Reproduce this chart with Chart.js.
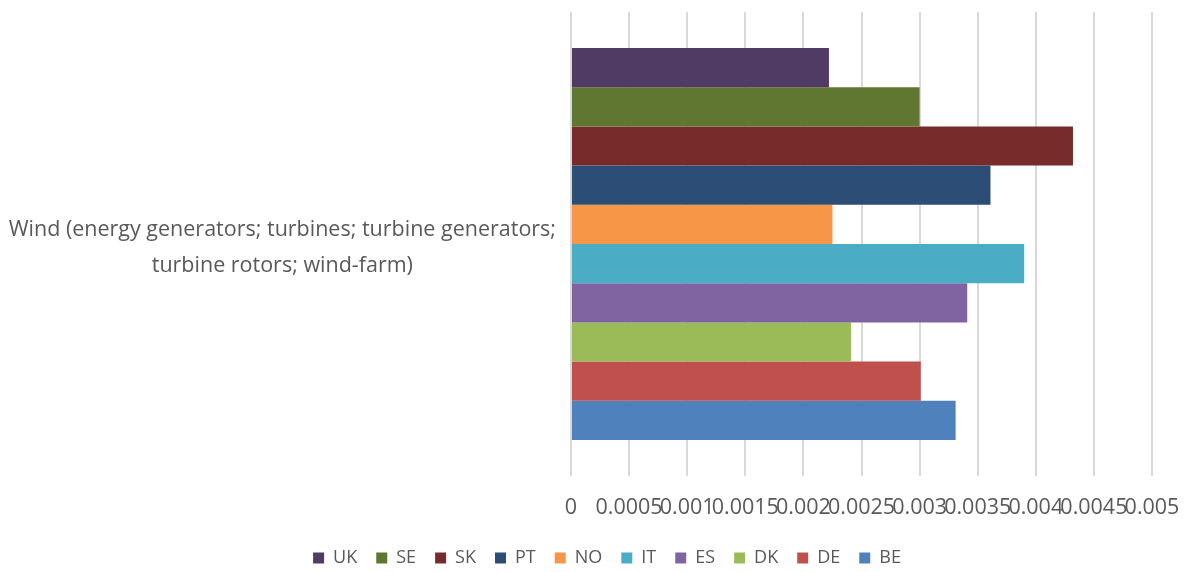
<!DOCTYPE html>
<html>
<head>
<meta charset="utf-8">
<script src="https://cdn.jsdelivr.net/npm/chart.js@4/dist/chart.umd.min.js"></script>
<style>
  html, body { margin: 0; padding: 0; background: #fff; }
  #wrap { width: 1189px; height: 572px; }
</style>
</head>
<body>
<div id="wrap"><canvas id="windChart"></canvas></div>
<script>
const categories = [["Wind (energy generators; turbines; turbine generators;", "turbine rotors; wind-farm)"]];

const countries = ["UK", "SE", "SK", "PT", "NO", "IT", "ES", "DK", "DE", "BE"];
const shares = [0.00222, 0.0030, 0.00432, 0.00361, 0.00225, 0.0039, 0.00341, 0.00241, 0.00301, 0.00331];
const colours = ["#4F3B63", "#5F7731", "#772C2B", "#2C4D75", "#F79646", "#4BACC6", "#8064A2", "#9BBB59", "#C0504D", "#4F81BD"];

const xTickLabels = ["0", "0.0005", "0.001", "0.0015", "0.002", "0.0025", "0.003", "0.0035", "0.004", "0.0045", "0.005"];

const textColour = "#595959";
const fontFamily = "'Open Sans', sans-serif";

// nudge the legend row to the right after layout
const legendShift = {
    id: "legendShift",
    afterLayout(chart) {
        chart.legend.left += 31;
        chart.legend.right += 31;
    }
};

const ctx = document.getElementById("windChart").getContext("2d");

new Chart(ctx, {
    type: "bar",
    data: {
        labels: categories,
        datasets: countries.map((name, i) => ({
            label: name,
            data: [shares[i]],
            backgroundColor: colours[i],
            borderWidth: 0,
            categoryPercentage: 0.845,
            barPercentage: 1
        }))
    },
    plugins: [legendShift],
    options: {
        indexAxis: "y",
        responsive: true,
        maintainAspectRatio: false,
        animation: false,
        layout: {
            padding: { top: 12, right: 37, bottom: -5, left: 0 }
        },
        plugins: {
            tooltip: { enabled: false },
            legend: {
                position: "bottom",
                labels: {
                    boxWidth: 11,
                    boxHeight: 11,
                    padding: 19,
                    color: textColour,
                    font: { family: fontFamily, size: 18 }
                }
            }
        },
        scales: {
            x: {
                min: 0,
                max: 0.005,
                ticks: {
                    stepSize: 0.0005,
                    autoSkip: false,
                    maxRotation: 0,
                    minRotation: 0,
                    padding: 19,
                    color: textColour,
                    font: { family: fontFamily, size: 21.5 },
                    callback: (value, index) => xTickLabels[index]
                },
                grid: {
                    color: "#d9d9d9",
                    lineWidth: 2,
                    drawTicks: false
                },
                border: { display: false },
                afterFit: (scale) => {
                    scale.height = 54;
                    scale.paddingLeft = 0;
                    scale.paddingRight = 0;
                }
            },
            y: {
                grid: { display: false, drawTicks: false },
                border: { display: false },
                ticks: {
                    crossAlign: "center",
                    padding: 15,
                    labelOffset: 4,
                    color: textColour,
                    font: { family: fontFamily, size: 21.5, lineHeight: 1.65 }
                },
                afterFit: (scale) => {
                    scale.width = 571;
                    scale.paddingTop = 0;
                    scale.paddingBottom = 0;
                }
            }
        }
    }
});
</script>
</body>
</html>
